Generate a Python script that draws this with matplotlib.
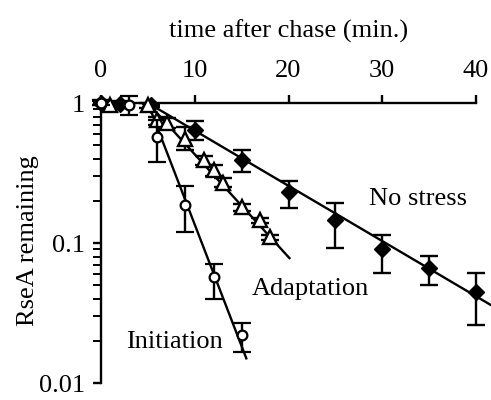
import matplotlib
matplotlib.use("Agg")
import matplotlib.pyplot as plt
import numpy as np
from matplotlib.ticker import LogLocator, FixedLocator, NullFormatter

plt.rcParams['font.family'] = ['Liberation Serif', 'DejaVu Serif']

# --- data ---
ns_t = [0, 2, 5.3, 10, 15, 20, 25, 30, 35, 40]
ns_y = [1.0, 0.99, 0.96, 0.64, 0.39, 0.23, 0.145, 0.09, 0.066, 0.045]
ns_lo = [0.97, 0.96, 0.93, 0.54, 0.32, 0.177, 0.092, 0.061, 0.050, 0.026]
ns_hi = [1.05, 1.04, 0.99, 0.745, 0.464, 0.275, 0.192, 0.114, 0.081, 0.061]

ad_t = [1, 5, 6, 7, 9, 11, 12, 13, 15, 17, 18]
ad_y = [0.97, 0.96, 0.75, 0.72, 0.55, 0.39, 0.33, 0.27, 0.18, 0.145, 0.11]
ad_lo = [0.95, 0.92, 0.70, 0.66, 0.46, 0.36, 0.30, 0.25, 0.17, 0.14, 0.105]
ad_hi = [1.0, 1.0, 0.80, 0.78, 0.67, 0.42, 0.36, 0.29, 0.19, 0.15, 0.115]

in_t = [0, 3, 6, 9, 12, 15]
in_y = [1.0, 0.97, 0.57, 0.186, 0.057, 0.022]
in_lo = [0.97, 0.82, 0.38, 0.12, 0.040, 0.0166]
in_hi = [1.03, 1.12, 0.76, 0.254, 0.071, 0.027]

# fitted lines (endpoints)
ns_fit_t = [5, 41.6]
ns_fit_y = [1.0, 0.036]
ad_fit_t = [5, 20.1]
ad_fit_y = [1.0, 0.078]
in_fit_t = [5, 15.5]
in_fit_y = [1.0, 0.015]

labels = ["No stress", "Adaptation", "Initiation"]
label_pos = [(33.8, 0.206), (22.3, 0.047), (7.8, 0.0196)]

xticks = [0, 10, 20, 30, 40]

FS = 19

fig = plt.figure(figsize=(4.91, 4.00), dpi=100)
ax = fig.add_axes([0.2057, 0.0425, 0.7638, 0.7])

def err(y, lo, hi):
    y = np.array(y); lo = np.array(lo); hi = np.array(hi)
    return [y - lo, hi - y]

lw = 1.7
for ft, fy in [(ns_fit_t, ns_fit_y), (ad_fit_t, ad_fit_y), (in_fit_t, in_fit_y)]:
    ax.plot(ft, fy, color='black', lw=lw, zorder=2, clip_on=False)

ax.errorbar(ns_t, ns_y, yerr=err(ns_y, ns_lo, ns_hi), fmt='D', color='black',
            mfc='black', mec='black', ms=8.5, capsize=6.5, elinewidth=lw, capthick=lw, zorder=3)
ax.errorbar(ad_t, ad_y, yerr=err(ad_y, ad_lo, ad_hi), fmt='^', color='black',
            mfc='white', mec='black', mew=1.7, ms=9.5, capsize=6.5, elinewidth=lw, capthick=lw, zorder=4)
ax.errorbar(in_t, in_y, yerr=err(in_y, in_lo, in_hi), fmt='o', color='black',
            mfc='white', mec='black', mew=1.6, ms=7, capsize=6.5, elinewidth=lw, capthick=lw, zorder=5)

for lab, (x, y) in zip(labels, label_pos):
    ax.text(x, y, lab, ha='center', va='center', fontsize=FS)

ax.set_yscale('log')
ax.set_xlim(0, 40)
ax.set_ylim(0.01, 1)

ax.spines['right'].set_visible(False)
ax.spines['bottom'].set_visible(False)
ax.spines['top'].set_linewidth(1.7)
ax.spines['left'].set_linewidth(1.7)

ax.xaxis.set_ticks_position('top')
ax.xaxis.set_label_position('top')
ax.set_xticks(xticks)
ax.set_xticklabels([str(v) for v in xticks])
ax.tick_params(axis='x', direction='out', length=6, width=1.7, labelsize=FS, pad=9)

ax.yaxis.set_major_locator(FixedLocator([0.01, 0.1, 1]))
ax.set_yticklabels(['0.01', '0.1', '1'])
ax.yaxis.set_minor_locator(LogLocator(base=10, subs=np.arange(2, 10)))
ax.yaxis.set_minor_formatter(NullFormatter())
ax.tick_params(axis='y', which='major', direction='out', length=6, width=1.7, labelsize=FS, pad=5.5)
ax.tick_params(axis='y', which='minor', direction='out', length=6, width=1.4)

ax.set_xlabel('time after chase (min.)', fontsize=FS)
ax.xaxis.label.set_va('center')
ax.xaxis.set_label_coords(0.5, 1.257)
ax.set_ylabel('RseA remaining', fontsize=FS)
ax.yaxis.label.set_va('center')
ax.yaxis.set_label_coords(-0.195, 0.51)

for a in ax.get_children():
    try:
        a.set_clip_on(False)
    except Exception:
        pass

fig.savefig('out.png', dpi=100)
